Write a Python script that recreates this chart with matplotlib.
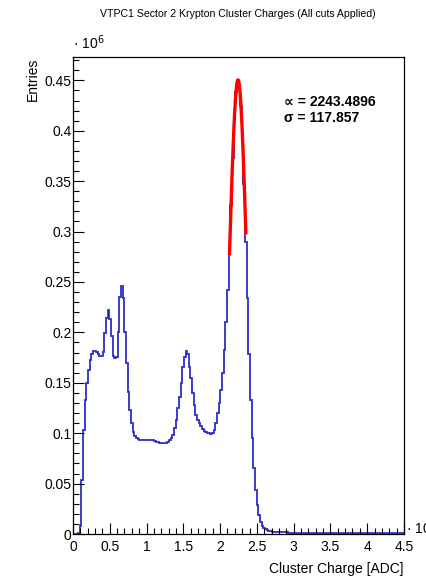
import numpy as np
import matplotlib
matplotlib.use("Agg")
import matplotlib.pyplot as plt
from matplotlib.ticker import MultipleLocator, FuncFormatter

plt.rcParams['font.family'] = ['Liberation Sans', 'DejaVu Sans']

# Histogram: cluster charge in units of 10^3 ADC, entries in units of 10^6
x_min, x_max, n_bins = 0.0, 4.5, 200

entries = [
    0, 0, 0, 0.001, 0.008,
    0.054, 0.103, 0.133, 0.150, 0.163,
    0.173, 0.179, 0.182, 0.182, 0.181,
    0.179, 0.177, 0.177, 0.181, 0.199,
    0.214, 0.222, 0.213, 0.196, 0.177,
    0.175, 0.176, 0.200, 0.235, 0.246,
    0.234, 0.200, 0.170, 0.141, 0.123,
    0.110, 0.1015, 0.097, 0.095, 0.094,
    0.093, 0.093, 0.093, 0.093, 0.093,
    0.0932, 0.0935, 0.0937, 0.093, 0.092,
    0.0915, 0.091, 0.0905, 0.090, 0.090,
    0.0902, 0.0905, 0.0915, 0.093, 0.095,
    0.098, 0.105, 0.113, 0.125, 0.136,
    0.150, 0.166, 0.176, 0.182, 0.179,
    0.166, 0.155, 0.140, 0.128, 0.118,
    0.113, 0.110, 0.107, 0.104, 0.1025,
    0.1015, 0.1005, 0.100, 0.0995, 0.100,
    0.103, 0.110, 0.120, 0.130, 0.143,
    0.160, 0.183, 0.210, 0.242, 0.279,
    0.326, 0.373, 0.411, 0.438, 0.450,
    0.445, 0.425, 0.391, 0.347, 0.290,
    0.234, 0.179, 0.133, 0.095, 0.065,
    0.044, 0.029, 0.019, 0.012, 0.0075,
    0.006, 0.0045, 0.0035, 0.003, 0.0026,
    0.0024, 0.0022, 0.0021, 0.0020, 0.0019,
    0.0018, 0.0017, 0.0017, 0.0016, 0.0016,
    0.0015, 0.0015, 0.0015, 0.0014, 0.0014,
    0.0014, 0.0013, 0.0013, 0.0013, 0.0013,
    0.0012, 0.0012, 0.0012, 0.0012, 0.0012,
    0.0011, 0.0011, 0.0011, 0.0011, 0.0011,
    0.0011, 0.0011, 0.0010, 0.0010, 0.0010,
    0.0010, 0.0010, 0.0010, 0.0010, 0.0010,
    0.0010, 0.0010, 0.0010, 0.0010, 0.0009,
    0.0009, 0.0009, 0.0009, 0.0009, 0.0009,
    0.0009, 0.0009, 0.0009, 0.0009, 0.0009,
    0.0009, 0.0009, 0.0009, 0.0009, 0.0009,
    0.0008, 0.0008, 0.0008, 0.0008, 0.0008,
    0.0008, 0.0008, 0.0008, 0.0008, 0.0008,
    0.0008, 0.0008, 0.0008, 0.0008, 0.0008,
    0.0008, 0.0008, 0.0008, 0.0008, 0.0008,
]

# Gaussian fit to the Kr main peak (ADC units)
fit_mean = 2243.4896
fit_sigma = 117.857
fit_amplitude = 0.4505
fit_range = (2127.0, 2351.0)

y_ticks = [0, 0.05, 0.1, 0.15, 0.2, 0.25, 0.3, 0.35, 0.4, 0.45]
x_ticks = [0, 0.5, 1, 1.5, 2, 2.5, 3, 3.5, 4, 4.5]

fig = plt.figure(figsize=(4.27, 5.78), dpi=100)
ax = fig.add_axes([0.171, 0.0761, 0.775, 0.825])

edges = np.linspace(x_min, x_max, n_bins + 1)
ax.stairs(entries, edges, color='#2e2ec4', linewidth=1.3, baseline=None)

xf = np.linspace(fit_range[0], fit_range[1], 200)
yf = fit_amplitude * np.exp(-0.5 * ((xf - fit_mean) / fit_sigma) ** 2)
ax.plot(xf / 1000.0, yf, color='#ff0000', linewidth=2.4, solid_capstyle='butt')

ax.set_xlim(x_min, x_max)
ax.set_ylim(0, 0.473)

ax.xaxis.set_minor_locator(MultipleLocator(0.1))
ax.yaxis.set_minor_locator(MultipleLocator(0.01))
ax.set_xticks(x_ticks)
ax.set_yticks(y_ticks)
ax.xaxis.set_major_formatter(FuncFormatter(lambda v, p: f"{v:g}"))
ax.yaxis.set_major_formatter(FuncFormatter(lambda v, p: f"{v:g}"))

ax.tick_params(axis='both', which='both', direction='in', top=False, right=False,
               labelsize=10, colors='black', width=0.8)
ax.tick_params(axis='both', which='major', length=8, pad=4)
ax.tick_params(axis='both', which='minor', length=4)
ax.tick_params(axis='y', which='major', pad=1)
for s in ax.spines.values():
    s.set_linewidth(0.9)
    s.set_color('black')

ax.set_xlabel('Cluster Charge [ADC]', fontsize=10, loc='right', labelpad=6)
ax.set_ylabel('Entries', fontsize=10, loc='top', labelpad=3)

fig.text(0.558, 0.975, 'VTPC1 Sector 2 Krypton Cluster Charges (All cuts Applied)',
         ha='center', va='center', fontsize=7.6)

fig.text(0.171, 0.91, '· 10$^{6}$', ha='left', va='bottom', fontsize=10)
fig.text(0.951, 0.0865, '· 10$^{3}$', ha='left', va='center', fontsize=10)

ax.text(0.637, 0.905, '∝ = 2243.4896', transform=ax.transAxes, fontsize=10,
        fontweight='bold', ha='left', va='center')
ax.text(0.637, 0.873, 'σ = 117.857', transform=ax.transAxes, fontsize=10,
        fontweight='bold', ha='left', va='center')

fig.savefig('out.png', dpi=100)
